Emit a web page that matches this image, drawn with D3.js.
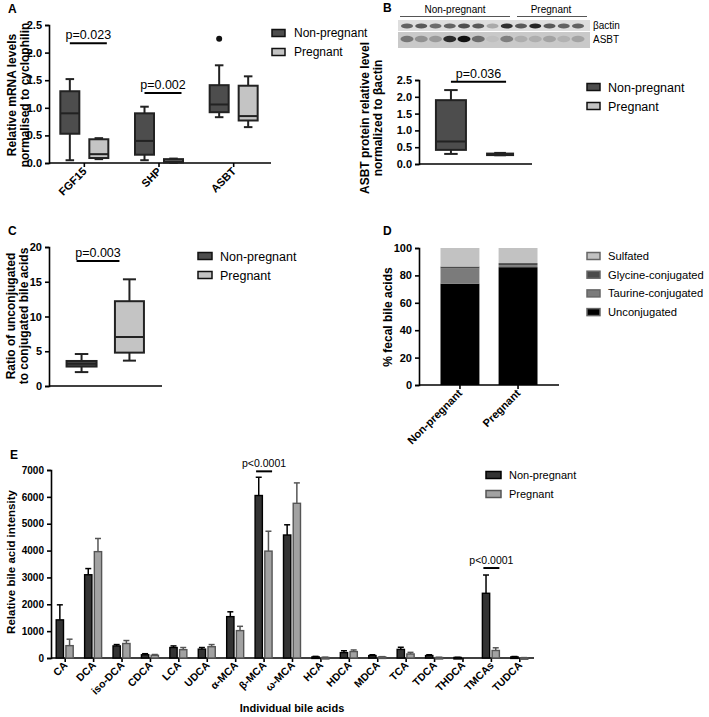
<!DOCTYPE html>
<html><head><meta charset="utf-8">
<script src="https://cdn.jsdelivr.net/npm/d3@7"></script>
<style>
html,body{margin:0;padding:0;background:#fff;}
svg{display:block;font-family:"Liberation Sans",Arial,sans-serif;}
</style></head>
<body>
<svg id="chart" width="709" height="717"></svg>
<script>
// ---------- DATA ----------
const groups = ["Non-pregnant", "Pregnant"];

// Panel A: mRNA box plots [min, Q1, median, Q3, max]
const mrnaGenes = ["FGF15", "SHP", "ASBT"];
const mrnaNonPreg = [[0.05,0.53,0.90,1.30,1.52],[0.05,0.15,0.40,0.90,1.02],[0.83,0.92,1.06,1.41,1.77]];
const mrnaPreg = [[0.07,0.09,0.16,0.43,0.45],[0.00,0.01,0.03,0.07,0.08],[0.65,0.77,0.85,1.40,1.57]];
const mrnaOutliers = [{gene:"ASBT", group:"Non-pregnant", value:2.25}];
const mrnaTicks = [0,0.5,1.0,1.5,2.0,2.5];
const mrnaPvals = [{gene:"FGF15", text:"p=0.023", y:2.17},{gene:"SHP", text:"p=0.002", y:1.27}];

// Panel B: western blot band intensities (13 lanes: 8 non-pregnant, 5 pregnant)
const blotActin = [0.6,0.65,0.55,0.6,0.7,0.65,0.25,0.85,0.65,0.9,0.65,0.6,0.6];
const blotASBT  = [0.45,0.3,0.25,0.85,1.0,0.5,0.05,0.4,0.15,0.15,0.2,0.12,0.2];
// ASBT protein box plots
const asbtNonPreg = [0.30,0.42,0.67,1.90,2.20];
const asbtPreg = [0.26,0.27,0.29,0.31,0.33];
const asbtTicks = [0,0.5,1.0,1.5,2.0,2.5];

// Panel C: ratio box plots
const ratioNonPreg = [2.0,2.8,3.2,3.6,4.6];
const ratioPreg = [3.65,4.8,7.05,12.2,15.35];
const ratioTicks = [0,5,10,15,20];

// Panel D: stacked % fecal bile acids
const fecalClasses = ["Unconjugated","Taurine-conjugated","Glycine-conjugated","Sulfated"];
const fecalUnconj = [74, 86];
const fecalTaurine = [11, 1.5];
const fecalGlycine = [1.5, 1.5];
const fecalSulfated = [13.5, 11];
const fecalTicks = [0,20,40,60,80,100];

// Panel E: individual bile acids, mean and SEM
const bileAcids = ["CA","DCA","iso-DCA","CDCA","LCA","UDCA","\u03b1-MCA","\u03b2-MCA","\u03c9-MCA","HCA","HDCA","MDCA","TCA","TDCA","THDCA","TMCAs","TUDCA"];
const meanNonPreg = [1420,3100,450,120,390,330,1540,6050,4580,40,200,90,320,90,20,2410,40];
const semNonPreg  = [560, 230, 50, 40, 60, 60, 180, 680, 380, 20, 70, 30, 80, 30, 5, 680, 15];
const meanPreg    = [460,3960,540,100,310,420,1020,3980,5760,20,240,40,150,20,0,280,10];
const semPreg     = [240, 490, 110,30, 80, 80, 160, 740, 760, 10, 60, 10, 60, 5, 0, 100, 5];
const bileTicks = [0,1000,2000,3000,4000,5000,6000,7000];
const bilePvals = [{acid:"\u03b2-MCA", text:"p<0.0001", y:6950},{acid:"TMCAs", text:"p<0.0001", y:3350}];

// ---------- STYLE ----------
const C_NP = "#4d4d4d", C_P = "#c4c4c4", STROKE = "#222";
const svg = d3.select("#chart");

function panelLabel(t,x,y){ svg.append("text").attr("x",x).attr("y",y).attr("font-size",12).attr("font-weight","bold").text(t); }

function yAxis(scale, x, ticks, fmt, fs){
  const g = svg.append("g").attr("transform",`translate(${x},0)`)
    .call(d3.axisLeft(scale).tickValues(ticks).tickFormat(fmt).tickSize(4).tickPadding(3));
  g.selectAll("path,line").attr("stroke","#000").attr("stroke-width",1.6);
  g.selectAll("text").attr("font-size",fs).attr("font-weight","bold").attr("fill","#000")
    .attr("font-family","'Liberation Sans',Arial,sans-serif");
  return g;
}
function xLine(x0,x1,y){ svg.append("line").attr("x1",x0).attr("x2",x1).attr("y1",y).attr("y2",y).attr("stroke","#000").attr("stroke-width",1.6); }
function xTicks(xs,y){ xs.forEach(x=>svg.append("line").attr("x1",x).attr("x2",x).attr("y1",y).attr("y2",y+4).attr("stroke","#000").attr("stroke-width",1.6)); }
function rotLabel(t,x,y,fs){
  svg.append("text").attr("transform",`translate(${x},${y}) rotate(-45)`).attr("text-anchor","end")
    .attr("font-size",fs).attr("font-weight","bold").text(t);
}
function yTitle(lines,x,yc,fs,gap){
  const t = svg.append("text").attr("transform",`translate(${x},${yc}) rotate(-90)`).attr("text-anchor","middle")
    .attr("font-size",fs).attr("font-weight","bold");
  lines.forEach((l,i)=>t.append("tspan").attr("x",0).attr("dy",i?gap:0).text(l));
}
function boxPlot(stats, cx, w, yS, fill){
  const [mn,q1,md,q3,mx] = stats;
  const g = svg.append("g");
  const cw = w*0.45;
  g.append("line").attr("x1",cx).attr("x2",cx).attr("y1",yS(mx)).attr("y2",yS(q3)).attr("stroke",STROKE).attr("stroke-width",2);
  g.append("line").attr("x1",cx).attr("x2",cx).attr("y1",yS(q1)).attr("y2",yS(mn)).attr("stroke",STROKE).attr("stroke-width",2);
  g.append("line").attr("x1",cx-cw/2).attr("x2",cx+cw/2).attr("y1",yS(mx)).attr("y2",yS(mx)).attr("stroke",STROKE).attr("stroke-width",2);
  g.append("line").attr("x1",cx-cw/2).attr("x2",cx+cw/2).attr("y1",yS(mn)).attr("y2",yS(mn)).attr("stroke",STROKE).attr("stroke-width",2);
  g.append("rect").attr("x",cx-w/2).attr("width",w).attr("y",yS(q3)).attr("height",Math.max(1.5,yS(q1)-yS(q3)))
    .attr("fill",fill).attr("stroke",STROKE).attr("stroke-width",2);
  g.append("line").attr("x1",cx-w/2).attr("x2",cx+w/2).attr("y1",yS(md)).attr("y2",yS(md)).attr("stroke",STROKE).attr("stroke-width",2);
}
function pBar(text,x0,x1,y,fs){
  svg.append("line").attr("x1",x0).attr("x2",x1).attr("y1",y).attr("y2",y).attr("stroke","#000").attr("stroke-width",2);
  svg.append("text").attr("x",(x0+x1)/2).attr("y",y-4).attr("text-anchor","middle").attr("font-size",fs).text(text);
}
function legend(items,x,y0,dy,fs,w,h,textX){
  items.forEach((it,i)=>{
    const y = y0+i*dy;
    svg.append("rect").attr("x",x).attr("y",y-h/2).attr("width",w).attr("height",h).attr("fill",it.fill).attr("stroke",it.stroke||"#111").attr("stroke-width",1.5);
    svg.append("text").attr("x",textX).attr("y",y+fs*0.36).attr("font-size",fs).text(it.label);
  });
}

// ---------- PANEL A ----------
panelLabel("A",8,13);
const yA = d3.scaleLinear().domain([0,2.5]).range([163,25]);
const xA = d3.scaleBand().domain(mrnaGenes).range([48,272]);
const subA = d3.scalePoint().domain(groups).range([-14.5,14.5]);
yAxis(yA,49,mrnaTicks,d3.format(".1f"),11);
xLine(49,271,163);
xTicks(mrnaGenes.map(g=>xA(g)+xA.bandwidth()/2-1),163);
mrnaGenes.forEach((g,i)=>{
  const c = xA(g)+xA.bandwidth()/2-1;
  boxPlot(mrnaNonPreg[i], c+subA("Non-pregnant"), 19, yA, C_NP);
  boxPlot(mrnaPreg[i], c+subA("Pregnant"), 19, yA, C_P);
  rotLabel(g, c+3, 172, 11);
});
mrnaOutliers.forEach(o=>{
  const c = xA(o.gene)+xA.bandwidth()/2-1+subA(o.group);
  svg.append("circle").attr("cx",c).attr("cy",yA(o.value)).attr("r",3).attr("fill","#111");
});
mrnaPvals.forEach(p=>{
  const c = xA(p.gene)+xA.bandwidth()/2-1;
  pBar(p.text, c+subA("Non-pregnant"), c+subA("Pregnant")+8, yA(p.y), 12.5);
});
yTitle(["Relative mRNA levels","normalised to cyclophilin"],15.5,95,12,13.5);
legend([{label:"Non-pregnant",fill:C_NP},{label:"Pregnant",fill:C_P}],272,33,19,12,13,7,294);

// ---------- PANEL B ----------
panelLabel("B",383,12);
svg.append("text").attr("x",455).attr("y",13).attr("text-anchor","middle").attr("font-size",10).text("Non-pregnant");
svg.append("line").attr("x1",400).attr("x2",510).attr("y1",16.5).attr("y2",16.5).attr("stroke","#555").attr("stroke-width",1);
svg.append("text").attr("x",551).attr("y",13).attr("text-anchor","middle").attr("font-size",10).text("Pregnant");
svg.append("line").attr("x1",517).attr("x2",587).attr("y1",16.5).attr("y2",16.5).attr("stroke","#555").attr("stroke-width",1);
svg.append("rect").attr("x",398).attr("y",20).attr("width",192).attr("height",11).attr("fill","#dedede");
svg.append("rect").attr("x",398).attr("y",32).attr("width",192).attr("height",16).attr("fill","#c9c9c9");
const lanes = d3.range(blotActin.length);
const xLane = d3.scalePoint().domain(lanes).range([407,578]);
lanes.forEach(i=>{
  svg.append("ellipse").attr("cx",xLane(i)).attr("cy",26).attr("rx",6).attr("ry",2.6).attr("fill","#111").attr("opacity",blotActin[i]);
  svg.append("ellipse").attr("cx",xLane(i)).attr("cy",39).attr("rx",6.5).attr("ry",3.3).attr("fill","#111").attr("opacity",blotASBT[i]);
});
svg.append("text").attr("x",593).attr("y",29).attr("font-size",10).text("\u03b2actin");
svg.append("text").attr("x",593).attr("y",43).attr("font-size",10).text("ASBT");

const yB = d3.scaleLinear().domain([0,2.5]).range([164,80]);
const xB = d3.scalePoint().domain(groups).range([419,532]).padding(0.65);
yAxis(yB,419,asbtTicks,d3.format(".1f"),11);
xLine(419,532,164);
boxPlot(asbtNonPreg, xB("Non-pregnant"), 30, yB, C_NP);
boxPlot(asbtPreg, xB("Pregnant"), 26, yB, "#8a8a8a");
pBar("p=0.036", xB("Non-pregnant"), xB("Pregnant")+6, yB(2.45), 12.5);
yTitle(["ASBT protein relative level","normalized to \u03b2actin"],368.5,118,12,13.5);
legend([{label:"Non-pregnant",fill:C_NP},{label:"Pregnant",fill:C_P}],587,87,19,12.5,13,7,608);

// ---------- PANEL C ----------
panelLabel("C",8,235);
const yC = d3.scaleLinear().domain([0,20]).range([386,247]);
const xC = d3.scalePoint().domain(groups).range([49,162]).padding(0.68);
yAxis(yC,49,ratioTicks,d3.format("d"),11);
xLine(49,162,386);
boxPlot(ratioNonPreg, xC("Non-pregnant"), 30, yC, C_NP);
boxPlot(ratioPreg, xC("Pregnant"), 29, yC, C_P);
pBar("p=0.003", xC("Non-pregnant")-5, xC("Pregnant")-10, yC(18), 12.5);
yTitle(["Ratio of unconjugated","to conjugated bile acids"],14.5,316,12,13.5);
legend([{label:"Non-pregnant",fill:C_NP},{label:"Pregnant",fill:C_P}],198,256,19,12.5,14,7,220);

// ---------- PANEL D ----------
panelLabel("D",383,235);
const yD = d3.scaleLinear().domain([0,100]).range([385,248]);
const xD = d3.scaleBand().domain(groups).range([419,559]).paddingInner(0.33).paddingOuter(0.37);
yAxis(yD,419,fecalTicks,d3.format("d"),11);
xLine(419,559,385);
const fecalRows = groups.map((g,i)=>({group:g,"Unconjugated":fecalUnconj[i],"Taurine-conjugated":fecalTaurine[i],"Glycine-conjugated":fecalGlycine[i],"Sulfated":fecalSulfated[i]}));
const stackD = d3.stack().keys(fecalClasses)(fecalRows);
const colD = d3.scaleOrdinal().domain(fecalClasses).range(["#000000","#7b7b7b","#4a4a4a","#c2c2c2"]);
stackD.forEach(layer=>{
  svg.append("g").selectAll("rect").data(layer).join("rect")
    .attr("x",d=>xD(d.data.group)).attr("width",xD.bandwidth())
    .attr("y",d=>yD(d[1])).attr("height",d=>yD(d[0])-yD(d[1]))
    .attr("fill",colD(layer.key));
});
xTicks(groups.map(g=>xD(g)+xD.bandwidth()/2),385);
groups.forEach(g=>rotLabel(g, xD(g)+xD.bandwidth()/2+3, 394, 11));
yTitle(["% fecal bile acids"],392,317,12,13);
legend(fecalClasses.slice().reverse().map(k=>({label:k,fill:colD(k),stroke:"#666"})),587,256,18.7,11.2,13,7,608);

// ---------- PANEL E ----------
panelLabel("E",10,459);
const yE = d3.scaleLinear().domain([0,7000]).range([658,470]);
const xE = d3.scaleBand().domain(bileAcids).range([51,534]);
const subE = d3.scaleBand().domain(groups).range([-9,8]).paddingInner(0.25);
yAxis(yE,51,bileTicks,d3.format("d"),10);
xLine(51,534,658);
xTicks(bileAcids.map(a=>xE(a)+xE.bandwidth()/2),658);
const seriesE = [
  {group:"Non-pregnant",mean:meanNonPreg,sem:semNonPreg,fill:"#333",stroke:"#000"},
  {group:"Pregnant",mean:meanPreg,sem:semPreg,fill:"#a2a2a2",stroke:"#555"}
];
seriesE.forEach(s=>{
  const g = svg.append("g");
  bileAcids.forEach((a,i)=>{
    const x = xE(a)+xE.bandwidth()/2+subE(s.group), w = subE.bandwidth(), cx = x+w/2;
    if(s.mean[i]<=0) return;
    if(s.sem[i]>0){
      g.append("line").attr("x1",cx).attr("x2",cx).attr("y1",yE(s.mean[i])).attr("y2",yE(s.mean[i]+s.sem[i])).attr("stroke",s.stroke).attr("stroke-width",1.5);
      g.append("line").attr("x1",cx-3).attr("x2",cx+3).attr("y1",yE(s.mean[i]+s.sem[i])).attr("y2",yE(s.mean[i]+s.sem[i])).attr("stroke",s.stroke).attr("stroke-width",1.5);
    }
    g.append("rect").attr("x",x).attr("width",w).attr("y",yE(s.mean[i])).attr("height",Math.max(1.5,yE(0)-yE(s.mean[i])))
      .attr("fill",s.fill).attr("stroke",s.stroke).attr("stroke-width",1.4);
  });
});
bileAcids.forEach(a=>rotLabel(a, xE(a)+xE.bandwidth()/2+3, 666, 10.5));
bilePvals.forEach(p=>{
  const c = xE(p.acid)+xE.bandwidth()/2;
  pBar(p.text, c-8, c+8, yE(p.y), 10.5);
});
yTitle(["Relative bile acid intensity"],15,562,11.5,12);
svg.append("text").attr("x",292).attr("y",712).attr("text-anchor","middle").attr("font-size",11).attr("font-weight","bold").text("Individual bile acids");
legend([{label:"Non-pregnant",fill:"#333",stroke:"#000"},{label:"Pregnant",fill:"#a2a2a2",stroke:"#555"}],486,475,19,11,15,7,509);
</script>
</body></html>
